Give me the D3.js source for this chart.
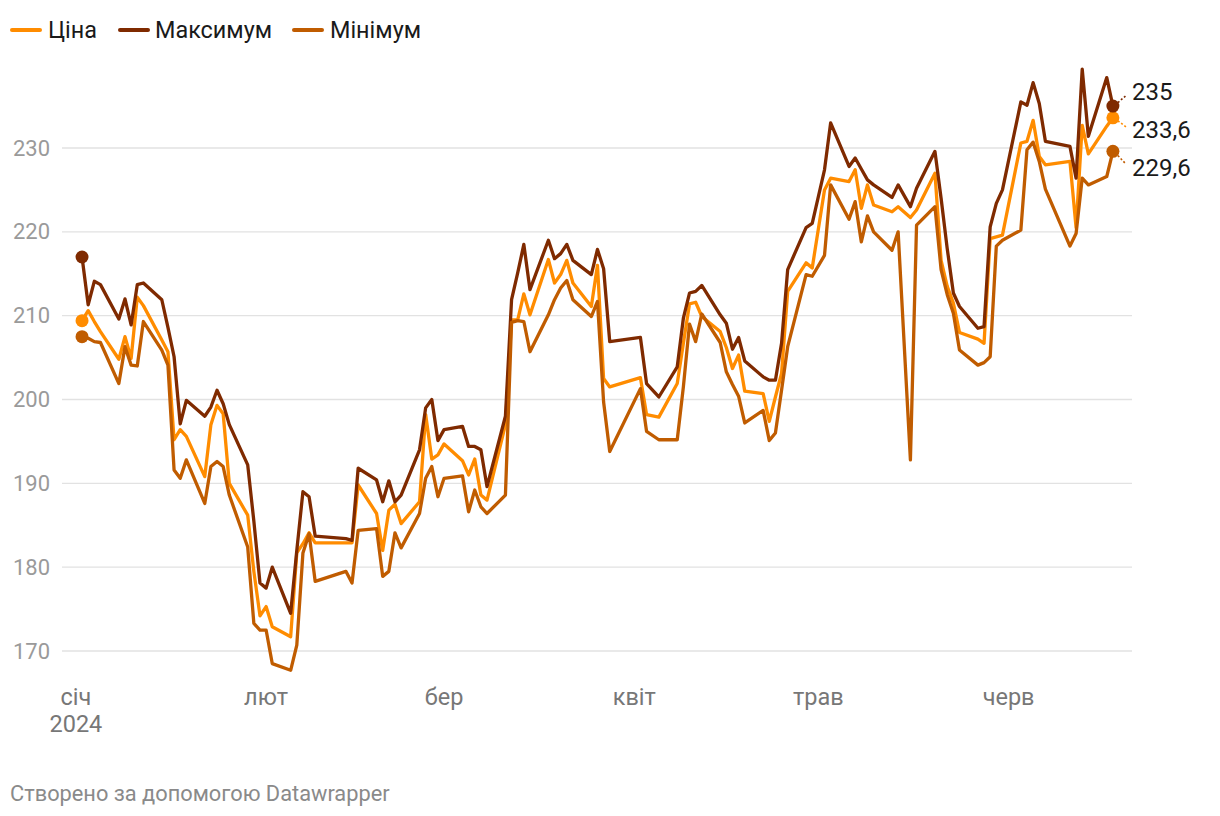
<!DOCTYPE html>
<html>
<head>
<meta charset="utf-8">
<script src="https://cdn.jsdelivr.net/npm/d3@7"></script>
<style>
  html, body { margin: 0; padding: 0; background: #fff; }
  svg { display: block; font-family: Roboto, "Noto Sans", sans-serif; }
</style>
</head>
<body>
<svg id="chart" width="1220" height="816"></svg>
<script>
// ---- data ----
const dates = [
  "2024-01-02","2024-01-03","2024-01-04","2024-01-05","2024-01-08","2024-01-09","2024-01-10","2024-01-11","2024-01-12",
  "2024-01-15","2024-01-16","2024-01-17","2024-01-18","2024-01-19","2024-01-22","2024-01-23","2024-01-24","2024-01-25","2024-01-26",
  "2024-01-29","2024-01-30","2024-01-31","2024-02-01","2024-02-02","2024-02-05","2024-02-06","2024-02-07","2024-02-08","2024-02-09",
  "2024-02-14","2024-02-15","2024-02-16","2024-02-19","2024-02-20","2024-02-21","2024-02-22","2024-02-23","2024-02-26","2024-02-27",
  "2024-02-28","2024-02-29","2024-03-01","2024-03-04","2024-03-05","2024-03-06","2024-03-07","2024-03-08","2024-03-11","2024-03-12",
  "2024-03-13","2024-03-14","2024-03-15","2024-03-18","2024-03-19","2024-03-20","2024-03-21","2024-03-22","2024-03-25","2024-03-26",
  "2024-03-27","2024-03-28","2024-04-02","2024-04-03","2024-04-05","2024-04-08","2024-04-09","2024-04-10","2024-04-11","2024-04-12",
  "2024-04-15","2024-04-16","2024-04-17","2024-04-18","2024-04-19","2024-04-22","2024-04-23","2024-04-24","2024-04-25","2024-04-26",
  "2024-04-29","2024-04-30","2024-05-02","2024-05-03","2024-05-06","2024-05-07","2024-05-08","2024-05-09","2024-05-10","2024-05-13",
  "2024-05-14","2024-05-16","2024-05-17","2024-05-20","2024-05-21","2024-05-22","2024-05-23","2024-05-24","2024-05-27","2024-05-28",
  "2024-05-29","2024-05-30","2024-05-31","2024-06-03","2024-06-04","2024-06-05","2024-06-06","2024-06-07","2024-06-11","2024-06-12",
  "2024-06-13","2024-06-14","2024-06-17","2024-06-18"
];

const priceValues = [
  209.4,210.6,209.3,208.1,204.8,207.5,204.9,212.2,211.2,
  207.1,205.7,195.2,196.4,195.6,190.8,197.0,199.3,198.3,190.0,
  186.2,179.5,174.2,175.3,172.9,171.7,181.7,182.8,184.1,182.9,
  182.9,182.9,189.8,186.4,182.0,186.8,187.5,185.2,187.8,198.2,
  192.9,193.4,194.7,192.7,191.0,192.9,188.6,188.0,197.0,209.5,
  209.5,212.6,210.1,216.7,213.9,214.9,216.6,213.9,211.1,216.0,
  202.5,201.5,202.6,198.2,197.9,201.9,206.7,211.4,211.6,209.9,
  208.1,206.2,203.7,205.3,201.0,200.7,197.4,200.3,203.1,212.9,
  216.3,215.7,225.0,226.4,226.0,227.4,222.8,225.6,223.2,222.4,
  223.0,221.7,222.6,227.0,216.6,213.5,211.5,208.0,207.2,206.7,
  219.2,219.4,219.6,230.6,230.8,233.3,229.0,228.0,228.4,220.5,
  232.7,229.3,232.6,233.6
];

const maxValues = [
  217.0,211.3,214.1,213.7,209.6,212.0,208.9,213.7,213.9,
  211.9,208.6,205.1,197.1,199.9,198.0,199.1,201.1,199.5,197.0,
  192.2,185.5,178.1,177.5,180.0,174.5,182.0,189.0,188.4,183.7,
  183.4,183.2,191.8,190.4,187.8,190.3,187.8,188.6,194.0,199.0,
  200.0,195.1,196.4,196.8,194.4,194.4,194.0,189.6,198.0,211.9,
  215.1,218.5,213.1,219.0,216.8,217.4,218.5,216.6,214.9,217.9,
  215.6,206.9,207.4,201.9,200.3,203.9,209.7,212.7,212.9,213.6,
  210.1,209.1,206.0,207.4,204.6,202.7,202.3,202.3,206.7,215.5,
  220.5,221.0,227.4,233.0,227.8,228.8,227.5,226.2,225.6,224.1,
  225.6,223.0,225.2,229.6,224.0,218.0,212.7,211.1,208.5,208.7,
  220.6,223.4,225.0,235.5,235.1,237.8,235.3,230.8,230.2,226.4,
  239.4,231.4,238.4,235.0
];

const minValues = [
  207.5,207.3,206.9,206.8,201.9,206.3,204.1,204.0,209.3,
  205.9,204.1,191.6,190.6,192.8,187.6,192.0,192.6,192.0,188.6,
  182.4,173.3,172.5,172.5,168.5,167.7,170.7,181.7,184.0,178.3,
  179.5,178.1,184.4,184.6,178.9,179.5,184.1,182.3,186.4,190.6,
  192.0,188.4,190.6,190.9,186.6,189.2,187.2,186.4,188.6,209.2,
  209.4,209.3,205.7,210.1,211.9,213.3,214.2,211.9,209.9,211.7,
  199.7,193.8,201.3,196.2,195.2,195.2,201.5,209.0,206.9,210.2,
  206.8,203.3,201.8,200.4,197.2,198.7,195.1,196.0,201.1,206.3,
  214.9,214.7,217.2,225.6,221.5,223.6,218.8,221.9,220.0,217.8,
  220.0,192.8,220.8,223.0,215.5,212.5,210.3,205.9,204.1,204.4,
  205.1,218.3,219.0,220.2,229.8,230.7,228.4,225.1,218.3,219.8,
  226.4,225.6,226.6,229.6
];

const seriesNames = ["Ціна", "Максимум", "Мінімум"];
const seriesColors = ["#ff8c00", "#7f2a00", "#c05c00"];
const yTicks = [170, 180, 190, 200, 210, 220, 230];
const monthLabels = ["січ", "лют", "бер", "квіт", "трав", "черв"];
const monthStarts = ["2024-01-01","2024-02-01","2024-03-01","2024-04-01","2024-05-01","2024-06-01"];
const yearLabel = "2024";
const endLabels = ["233,6", "235", "229,6"];
const footerText = "Створено за допомогою Datawrapper";

// ---- drawing ----
const svg = d3.select("#chart");
const parse = d3.utcParse("%Y-%m-%d");
const xDates = dates.map(parse);

const x = d3.scaleUtc()
  .domain([parse("2024-01-01"), parse("2024-06-18")])
  .range([75.9, 1112.9]);
const y = d3.scaleLinear().domain([170, 230]).range([651, 148]);

const gridLeft = 62, gridRight = 1132;

// grid
svg.append("g").selectAll("line").data(yTicks).join("line")
  .attr("x1", gridLeft).attr("x2", gridRight)
  .attr("y1", d => y(d)).attr("y2", d => y(d))
  .attr("stroke", "#e2e2e2").attr("stroke-width", 1.3);

// y labels
svg.append("g").selectAll("text").data(yTicks).join("text")
  .attr("x", 50).attr("y", d => y(d))
  .attr("text-anchor", "end").attr("dominant-baseline", "central")
  .attr("font-size", 22).attr("fill", "#9a9a9a")
  .text(d => d);

// x axis labels
const xa = svg.append("g");
xa.selectAll("text.m").data(monthStarts).join("text")
  .attr("class", "m")
  .attr("x", d => x(parse(d))).attr("y", 697)
  .attr("text-anchor", "middle").attr("dominant-baseline", "central")
  .attr("font-size", 23.5).attr("fill", "#777")
  .text((d, i) => monthLabels[i]);
xa.append("text")
  .attr("x", x(parse(monthStarts[0]))).attr("y", 724)
  .attr("text-anchor", "middle").attr("dominant-baseline", "central")
  .attr("font-size", 23.5).attr("fill", "#777")
  .text(yearLabel);

// lines
const allSeries = [priceValues, maxValues, minValues];
const line = d3.line().x((d, i) => x(xDates[i])).y(d => y(d));
const drawOrder = [0, 1, 2];
drawOrder.forEach(s => {
  svg.append("path")
    .datum(allSeries[s])
    .attr("fill", "none")
    .attr("stroke", seriesColors[s])
    .attr("stroke-width", 3.3)
    .attr("stroke-linejoin", "round")
    .attr("stroke-linecap", "round")
    .attr("d", line);
});

// start & end dots
const last = dates.length - 1;
drawOrder.forEach(s => {
  [0, last].forEach(i => {
    svg.append("circle")
      .attr("cx", x(xDates[i])).attr("cy", y(allSeries[s][i]))
      .attr("r", 6.5).attr("fill", seriesColors[s]);
  });
});

// end labels with dotted connectors
const labelShift = [12, -14, 17];
const labelX = 1132;
[0, 1, 2].forEach(s => {
  const cx = x(xDates[last]), cy = y(allSeries[s][last]);
  const ly = cy + labelShift[s];
  svg.append("line")
    .attr("x1", cx + 5).attr("y1", cy + (ly - cy) * 0.25)
    .attr("x2", labelX - 6).attr("y2", cy + (ly - cy) * 0.75)
    .attr("stroke", seriesColors[s]).attr("stroke-width", 1.6)
    .attr("stroke-dasharray", "2,2");
  svg.append("text")
    .attr("x", labelX).attr("y", ly)
    .attr("dominant-baseline", "central")
    .attr("font-size", 24).attr("fill", "#1a1a1a")
    .text(endLabels[s]);
});

// legend
const legendPos = [{lx: 12, tx: 48}, {lx: 120, tx: 155}, {lx: 294, tx: 330}];
const lg = svg.append("g");
seriesNames.forEach((n, i) => {
  lg.append("line")
    .attr("x1", legendPos[i].lx).attr("x2", legendPos[i].lx + 28)
    .attr("y1", 30).attr("y2", 30)
    .attr("stroke", seriesColors[i]).attr("stroke-width", 4)
    .attr("stroke-linecap", "round");
  lg.append("text")
    .attr("x", legendPos[i].tx).attr("y", 30)
    .attr("dominant-baseline", "central")
    .attr("font-size", 23.4).attr("fill", "#1a1a1a")
    .text(n);
});

// footer
svg.append("text")
  .attr("x", 10).attr("y", 793)
  .attr("dominant-baseline", "central")
  .attr("font-size", 21.8).attr("fill", "#8a8a8a")
  .text(footerText);
</script>
</body>
</html>
